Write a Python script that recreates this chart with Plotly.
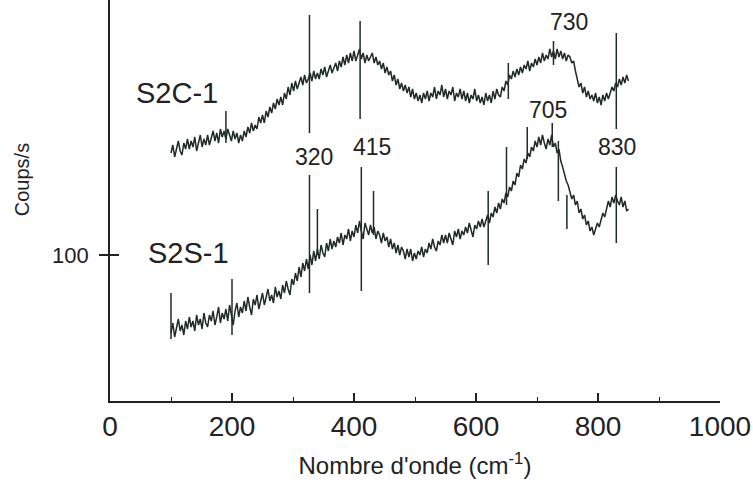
import plotly.graph_objects as go

# Raman spectra (wavenumber in cm-1, counts/s), every 3 cm-1
wavenumber = list(range(100, 851, 3))

s2s_counts = [
    61, 66, 59, 64, 68, 62, 65, 60, 67, 63,
    69, 64, 67, 62, 70, 65, 68, 63, 71, 66,
    64, 70, 67, 72, 65, 69, 74, 66, 71, 68,
    73, 67, 75, 70, 65, 72, 76, 69, 74, 71,
    77, 72, 79, 74, 70, 78, 75, 80, 73, 77,
    81, 75, 79, 83, 77, 80, 76, 84, 79, 82,
    78, 85, 81, 87, 83, 80, 88, 85, 91, 87,
    94, 89, 96, 92, 98, 93, 100, 95, 102, 97,
    103, 98, 105, 101, 99, 106, 102, 108, 103, 107,
    104, 109, 106, 111, 105, 110, 108, 113, 107, 112,
    109, 115, 111, 117, 112, 108, 116, 113, 110, 115,
    111, 114, 108, 112, 110, 106, 111, 107, 109, 104,
    108, 103, 106, 101, 105, 100, 104, 102, 98, 103,
    99, 103, 97, 101, 98, 102, 100, 104, 99, 103,
    101, 106, 103, 108, 104, 102, 107, 105, 110, 106,
    110, 106, 111, 108, 105, 112, 109, 113, 108, 112,
    110, 114, 111, 116, 112, 109, 115, 113, 117, 114,
    118, 114, 117, 120, 116, 121, 119, 124, 121, 126,
    123, 128, 126, 131, 129, 134, 132, 137, 135, 141,
    139, 145, 143, 148, 146, 151, 149, 154, 152, 157,
    154, 159, 155, 160, 156, 153, 158, 155, 160, 154,
    156, 151, 153, 147, 144, 140, 137, 135, 131, 128,
    130, 125, 127, 121, 123, 118, 120, 115, 117, 112,
    114, 110, 113, 116, 114, 118, 121, 119, 124, 127,
    124, 129, 126, 130, 127, 125, 129, 124, 127, 122,
    123,
]

s2c_counts = [
    151, 155, 149, 154, 157, 152, 150, 156, 153, 158,
    153, 157, 154, 159, 152, 156, 160, 154, 158, 155,
    160, 155, 158, 162, 157, 161, 156, 163, 159, 162,
    158, 163, 160, 157, 162, 158, 161, 156, 160, 157,
    162, 159, 164, 161, 166, 162, 165, 163, 169, 166,
    170, 166, 172, 169, 174, 171, 176, 173, 178, 175,
    179, 175, 181, 178, 184, 180, 186, 182, 187, 183,
    186, 189, 185, 190, 186, 188, 191, 187, 192, 188,
    191, 188, 193, 190, 194, 189, 192, 195, 191, 194,
    196, 192, 197, 194, 199, 195, 200, 196, 201, 197,
    202, 197, 200, 203, 198, 201, 196, 200, 197, 199,
    201, 196, 199, 195, 197, 193, 196, 191, 194, 190,
    192, 187, 190, 185, 188, 183, 186, 182, 185, 181,
    184, 179, 183, 178, 181, 177, 180, 176, 181, 178,
    182, 177, 181, 179, 184, 178, 182, 180, 185, 179,
    183, 178, 182, 180, 184, 177, 181, 179, 183, 178,
    182, 177, 181, 176, 180, 178, 183, 177, 180, 176,
    179, 175, 181, 177, 180, 176, 182, 178, 183, 180,
    179, 184, 182, 187, 185, 190, 188, 192, 189, 193,
    190, 194, 191, 195, 193, 197, 192, 196, 194, 198,
    195, 199, 196, 201, 197, 200, 198, 203, 199, 202,
    198, 203, 199, 202, 198, 201, 197, 200, 199, 196,
    197, 192, 188, 184, 186, 181, 184, 179, 182, 178,
    180, 177, 181, 176, 179, 175, 180, 177, 181, 178,
    181, 184, 182, 186, 184, 188, 185, 189, 186, 190,
    187,
]

# narrow spikes: position, bottom and top of each line
s2s_spike_x = [100, 200, 327, 340, 412, 432, 620, 650, 684, 725, 735, 749, 830]
s2s_spike_lo = [58, 60, 81, 100, 82, 110, 95, 125, 148, 154, 127, 113, 106]
s2s_spike_hi = [81, 88, 140, 123, 144, 132, 132, 154, 164, 166, 157, 130, 144]

s2c_spike_x = [190, 327, 410, 653, 727, 830]
s2c_spike_lo = [156, 161, 168, 178, 195, 163]
s2c_spike_hi = [172, 220, 217, 196, 207, 211]

peak_labels = ['320', '415', '705', '730', '830']
sample_names = ['S2C-1', 'S2S-1']

x_ticks = [0, 200, 400, 600, 800, 1000]
y_ticks = [100]

line_col = '#1f2b28'
font_fam = 'Liberation Sans, Arial, sans-serif'


def spike_segments(xs, lo, hi):
    sx, sy = [], []
    for i in range(len(xs)):
        sx += [xs[i], xs[i], None]
        sy += [lo[i], hi[i], None]
    return sx, sy


fig = go.Figure()

for counts in [s2c_counts, s2s_counts]:
    fig.add_trace(go.Scatter(x=wavenumber, y=counts, mode='lines',
                             line=dict(color=line_col, width=1.5),
                             showlegend=False, hoverinfo='skip'))

for xs, lo, hi in [(s2c_spike_x, s2c_spike_lo, s2c_spike_hi),
                   (s2s_spike_x, s2s_spike_lo, s2s_spike_hi)]:
    sx, sy = spike_segments(xs, lo, hi)
    fig.add_trace(go.Scatter(x=sx, y=sy, mode='lines',
                             line=dict(color=line_col, width=1.5),
                             showlegend=False, hoverinfo='skip'))

# empty trace on y2 so the inner half of the 100 tick gets drawn
fig.add_trace(go.Scatter(x=[None], y=[None], yaxis='y2', showlegend=False))

# peak labels
label_pos = [(334, 149), (429, 154), (718, 172.5), (753, 216.5), (831, 154)]
for txt, (lx, ly) in zip(peak_labels, label_pos):
    fig.add_annotation(x=lx, y=ly, text=txt, showarrow=False,
                       font=dict(family=font_fam, size=23, color='#222'))

name_pos = [(110, 181), (129, 101)]
for txt, (lx, ly) in zip(sample_names, name_pos):
    fig.add_annotation(x=lx, y=ly, text=txt, showarrow=False,
                       font=dict(family=font_fam, size=29, color='#222'))

fig.add_annotation(xref='paper', yref='paper', x=-0.144, y=0.551,
                   xanchor='center', yanchor='middle',
                   text='Coups/s', textangle=-90, showarrow=False,
                   font=dict(family=font_fam, size=20, color='#222'))

fig.update_layout(
    width=753, height=491,
    margin=dict(l=110, r=33, t=0, b=90),
    paper_bgcolor='white', plot_bgcolor='white',
    font=dict(family=font_fam, color='#222'),
    xaxis=dict(range=[0, 1000], tickvals=x_ticks, ticks='inside', ticklen=8,
               tickwidth=1.5, tickcolor='#222',
               minor=dict(ticks='inside', ticklen=4, dtick=100, tickwidth=1.2, tickcolor='#222'),
               showline=True, linecolor='#222', linewidth=1.6, showgrid=False,
               zeroline=False, tickfont=dict(size=28),
               title=dict(text="Nombre d'onde (cm<sup>-1</sup>)", font=dict(size=24), standoff=16)),
    yaxis=dict(range=[27, 227.5], tickvals=y_ticks, ticktext=['100'], ticks='outside',
               ticklen=9, tickwidth=2, tickcolor='#222', ticklabelstandoff=6,
               showline=True, linecolor='#222', linewidth=1.6, showgrid=False,
               zeroline=False, tickfont=dict(size=22)),
    yaxis2=dict(range=[27, 227.5], overlaying='y', side='left', tickvals=y_ticks,
                ticks='inside', ticklen=9, tickwidth=2, tickcolor='#222',
                showticklabels=False, showgrid=False, zeroline=False, showline=False),
)

fig.write_html("out.html", config={'displayModeBar': False},
               post_script="document.body.style.margin='0';")
